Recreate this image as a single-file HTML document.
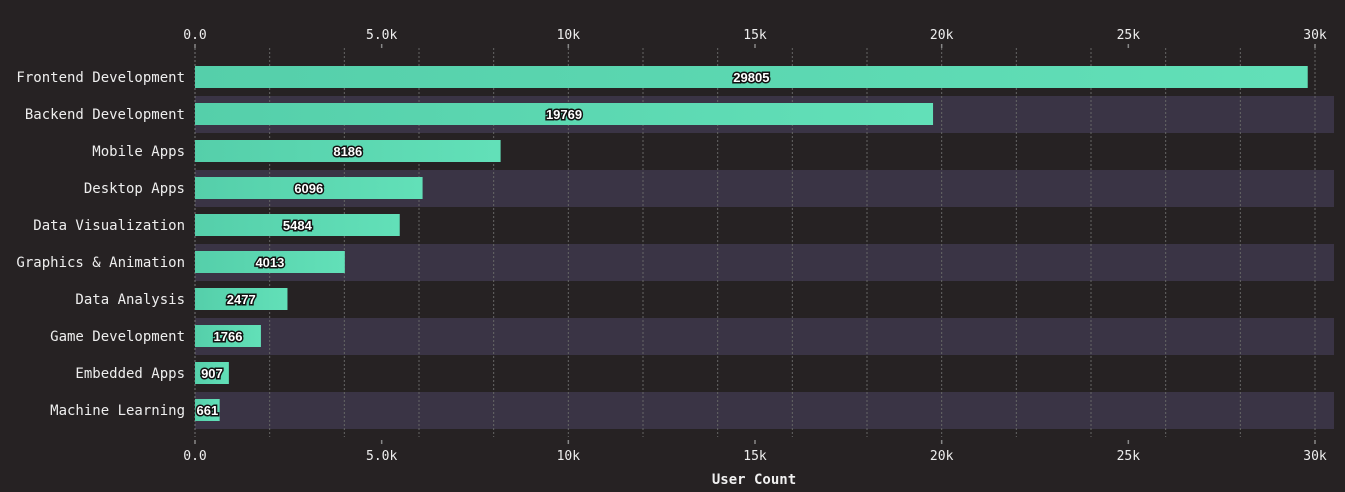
<!DOCTYPE html>
<html><head><meta charset="utf-8"><style>
html,body{margin:0;padding:0;background:#262223;}
svg{display:block;font-family:"DejaVu Sans Mono","Liberation Mono",monospace;}
</style></head><body>
<svg id="chart" width="1345" height="492" viewBox="0 0 1345 492" xmlns="http://www.w3.org/2000/svg">
<defs><linearGradient id="g" x1="0" x2="1" y1="0" y2="0"><stop offset="0" stop-color="#55cfaa"/><stop offset="1" stop-color="#62e0b8"/></linearGradient></defs>
<g id="bands"></g><g id="grid"></g><g id="bars"></g><g id="axes"></g>
<text x="754" y="484" fill="#f0f0f0" font-size="14" font-weight="bold" text-anchor="middle">User Count</text>
</svg>
<script>
const categories=["Frontend Development","Backend Development","Mobile Apps","Desktop Apps","Data Visualization","Graphics & Animation","Data Analysis","Game Development","Embedded Apps","Machine Learning"];
const values=[29805,19769,8186,6096,5484,4013,2477,1766,907,661];
const tickValues=[0,5000,10000,15000,20000,25000,30000];
const tickLabels=["0.0","5.0k","10k","15k","20k","25k","30k"];
const gridValues=[2000,4000,6000,8000,10000,12000,14000,16000,18000,20000,22000,24000,26000,28000,30000];
const NS="http://www.w3.org/2000/svg";
const X0=195,X1=1315,plotRight=1334,topY=59,rowH=37;
const xs=v=>X0+(X1-X0)*v/30000;
const ys=i=>topY+i*rowH;
function mk(t,a,p){const e=document.createElementNS(NS,t);for(const k in a)e.setAttribute(k,a[k]);document.getElementById(p).appendChild(e);return e;}
categories.forEach((c,i)=>{
 if(i%2===1){const b=mk("rect",{x:X0,y:ys(i),width:plotRight-X0,height:rowH,fill:"#3a3445"},"bands");
  
  }
});
const gl=mk("line",{x1:X0,x2:X0,y1:48,y2:437,stroke:"#777","stroke-dasharray":"2,2"},"grid");


gridValues.forEach(v=>{const l=mk("line",{x1:xs(v),x2:xs(v),y1:48,y2:437,stroke:"#666","stroke-dasharray":"2,2"},"grid");
 
 });
categories.forEach((c,i)=>{
 const y=ys(i);
 const r=mk("rect",{x:X0,y:y+7,width:xs(values[i])-X0,height:22,fill:"url(#g)"},"bars");
 
 
 const t=mk("text",{x:(X0+xs(values[i]))/2,y:y+23,fill:"#fff",stroke:"#111","stroke-width":3,"paint-order":"stroke","font-size":13,"font-weight":"bold","text-anchor":"middle","font-family":"Liberation Sans, sans-serif"},"bars");
 t.textContent=values[i];
 
 
 const lb=mk("text",{x:185,y:y+23,fill:"#eee","font-size":14,"text-anchor":"end"},"axes");
 lb.textContent=c;
 
 
});
tickValues.forEach((v,i)=>{
 [[39,44,48],[460,440,444]].forEach(([ty,a,b])=>{
  const tk=mk("line",{x1:xs(v),x2:xs(v),y1:a,y2:b,stroke:"#888","stroke-width":1.5},"axes");
  
  
  const t=mk("text",{x:xs(v),y:ty,fill:"#eee","font-size":13,"text-anchor":"middle"},"axes");
  t.textContent=tickLabels[i];
  
  
 });
});
</script>
</body></html>
